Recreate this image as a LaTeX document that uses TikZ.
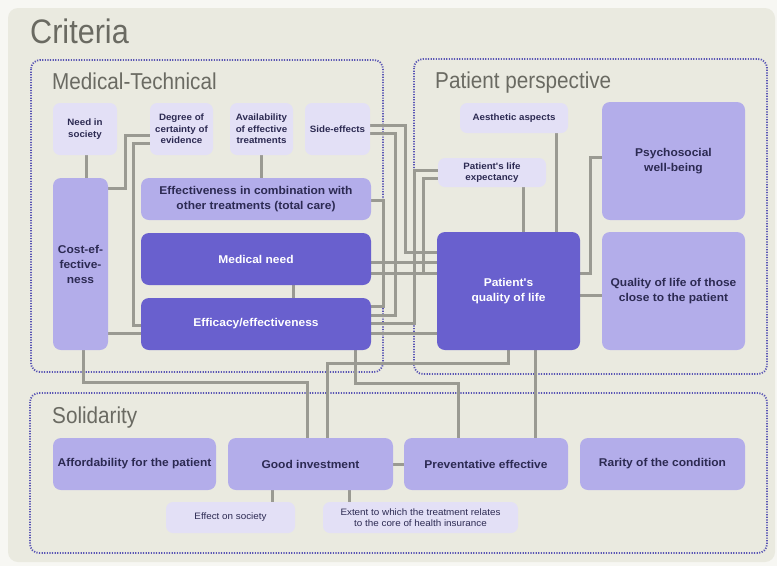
\documentclass[tikz,border=0pt]{standalone}
\usepackage{fontspec}
\setmainfont{Liberation Sans}
\newfontfamily\ttlfont[FakeStretch=0.9]{Liberation Sans}
\newfontfamily\boxfont[FakeStretch=1.06]{Liberation Sans}
\definecolor{cPanel}{HTML}{EAEAE0}
\definecolor{cPage}{HTML}{F7F7F3}
\definecolor{cLight}{HTML}{E3E0F6}
\definecolor{cMed}{HTML}{B3ADEA}
\definecolor{cDark}{HTML}{6960CE}
\definecolor{cText}{HTML}{2C2A52}
\definecolor{cLine}{HTML}{9A9A92}
\definecolor{cDot}{HTML}{5A56B4}
\definecolor{cTitle}{HTML}{6A6A62}
\pgfdeclarelayer{bg}
\pgfdeclarelayer{lines}
\pgfsetlayers{bg,lines,main}
\newcommand\mybox[7]{\node[#1,minimum width={(#5)-(#3)},minimum height={(#6)-(#4)}] (#2) at ({((#3)+(#5))/2},{((#4)+(#6))/2}) {#7};}
\begin{document}
\begin{tikzpicture}[x=1pt,y=-1pt,
  lt/.style={fill=cLight, rounded corners=7pt, font=\boxfont\fontsize{9.2}{11.5}\selectfont\bfseries, text=cText, align=center, inner sep=0pt},
  ltr/.style={lt, font=\boxfont\fontsize{9.3}{11.5}\selectfont},
  md/.style={fill=cMed, rounded corners=8pt, font=\boxfont\fontsize{11.3}{15}\selectfont\bfseries, text=cText, align=center, inner sep=0pt},
  dk/.style={fill=cDark, rounded corners=8pt, font=\boxfont\fontsize{11.3}{15}\selectfont\bfseries, text=white, align=center, inner sep=0pt},
  conn/.style={draw=cLine, line width=3pt},
  region/.style={draw=cDot, line width=1.8pt, dash pattern=on 1.2pt off 1.4pt, rounded corners=9pt},
  ttl/.style={anchor=base west, inner sep=0pt, text=cTitle, font=\ttlfont\fontsize{23}{23}\selectfont}]
\useasboundingbox (0,0) rectangle (777,566);
\begin{pgfonlayer}{bg}
\fill[cPage] (0,0) rectangle (777,566);
\fill[cPanel, rounded corners=10pt] (8,8) rectangle (775,562);
\draw[region] (31,60) rectangle (383,372);
\draw[region] (414,59) rectangle (767,374);
\draw[region] (30,393) rectangle (767,553);
\end{pgfonlayer}

% titles
\node[ttl, font=\ttlfont\fontsize{34}{34}\selectfont] (tcrit) at (30,43) {Criteria};
\node[ttl] (tmed) at (52,89) {Medical-Technical};
\node[ttl] (tpat) at (435,88) {Patient perspective};
\node[ttl] (tsol) at (52,423) {Solidarity};

% Medical-Technical
\mybox{lt}{nis}{53}{103}{117}{155}{Need in\\society}
\mybox{lt}{dc}{150}{103}{213}{155}{Degree of\\certainty of\\evidence}
\mybox{lt}{av}{230}{103}{293}{155}{Availability\\of effective\\treatments}
\mybox{lt}{se}{305}{103}{370}{155}{Side-effects}
\mybox{md}{ce}{53}{178}{108}{350}{Cost-ef-\\fective-\\ness}
\mybox{md}{comb}{141}{178}{371}{220}{Effectiveness in combination with\\other treatments (total care)}
\mybox{dk}{mn}{141}{233}{371}{285}{Medical need}
\mybox{dk}{eff}{141}{298}{371}{350}{Efficacy/effectiveness}

% Patient perspective
\mybox{lt}{ae}{460}{103}{568}{133}{Aesthetic aspects}
\mybox{lt}{le}{438}{158}{546}{187}{Patient's life\\expectancy}
\mybox{md}{ps}{602}{102}{745}{220}{Psychosocial\\well-being}
\mybox{dk}{qol}{437}{232}{580}{350}{Patient's\\quality of life}
\mybox{md}{qc}{602}{232}{745}{350}{Quality of life of those\\close to the patient}

% Solidarity
\mybox{md}{aff}{53}{438}{216}{490}{Affordability for the patient}
\mybox{md}{gi}{228}{438}{393}{490}{Good investment}
\mybox{md}{prev}{404}{438}{568}{490}{Preventative effective}
\mybox{md}{rar}{580}{438}{745}{490}{Rarity of the condition}
\mybox{ltr}{es}{166}{502}{295}{533}{Effect on society}
\mybox{ltr}{ext}{323}{502}{518}{533}{Extent to which the treatment relates\\to the core of health insurance}

\begin{pgfonlayer}{lines}
% Medical-Technical internal
\draw[conn] (nis.south -| 86,0) -- (ce.north -| 86,0);
\draw[conn] (ce.east |- 0,188) -- (125,188) -- (125,135) -- (dc.west |- 0,135);
\draw[conn] (dc.west |- 0,143) -- (133,143) -- (133,325) -- (eff.west |- 0,325);
\draw[conn] (av.south) -- (av.south |- comb.north);
\draw[conn] (ce.east |- 0,333) -- (eff.west |- 0,333);
\draw[conn] (mn.south -| 293,0) -- (eff.north -| 293,0);
% middle tangle
\draw[conn] (se.east |- 0,125) -- (405,125) -- (405,252) -- (qol.west |- 0,252);
\draw[conn] (se.east |- 0,133) -- (395,133) -- (395,315) -- (eff.east |- 0,315);
\draw[conn] (le.west |- 0,170) -- (414,170) -- (414,323) -- (eff.east |- 0,323);
\draw[conn] (le.west |- 0,178) -- (423,178) -- (423,273);
\draw[conn] (comb.east |- 0,200) -- (383,200) -- (383,306) -- (eff.east |- 0,306);
\draw[conn] (mn.east |- 0,262) -- (qol.west |- 0,262);
\draw[conn] (mn.east |- 0,273) -- (qol.west |- 0,273);
\draw[conn] (eff.east |- 0,333) -- (qol.west |- 0,333);
% Patient perspective internal
\draw[conn] (le.south -| 523,0) -- (qol.north -| 523,0);
\draw[conn] (ae.south -| 556,0) -- (qol.north -| 556,0);
\draw[conn] (ps.west |- 0,157) -- (590,157) -- (590,273) -- (qol.east |- 0,273);
\draw[conn] (qol.east |- 0,295) -- (qc.west |- 0,295);
% to Solidarity
\draw[conn] (ce.south -| 83,0) -- (83,382) -- (307,382) -- (gi.north -| 307,0);
\draw[conn] (eff.south -| 355,0) -- (355,383) -- (458,383) -- (prev.north -| 458,0);
\draw[conn] (qol.south -| 508,0) -- (508,363) -- (327,363) -- (gi.north -| 327,0);
\draw[conn] (qol.south -| 535,0) -- (prev.north -| 535,0);
% Solidarity internal
\draw[conn] (gi.east |- 0,464) -- (prev.west |- 0,464);
\draw[conn] (gi.south -| 272,0) -- (es.north -| 272,0);
\draw[conn] (gi.south -| 349,0) -- (ext.north -| 349,0);
\end{pgfonlayer}
\end{tikzpicture}
\end{document}
